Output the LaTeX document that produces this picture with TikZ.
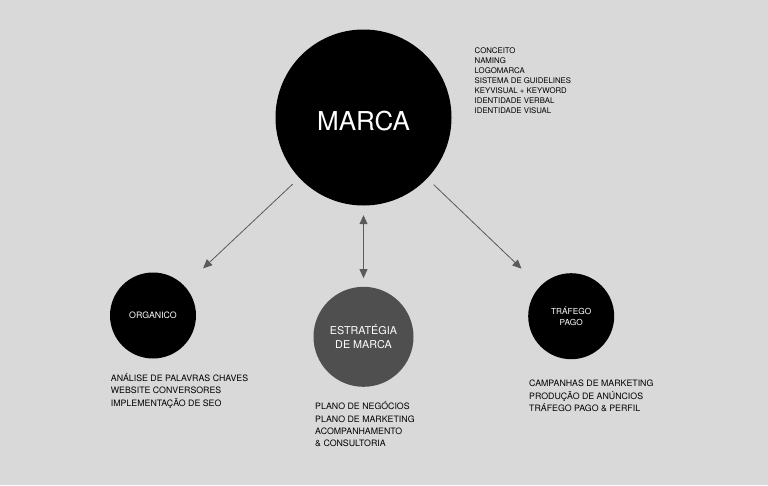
\documentclass[tikz,border=0pt]{standalone}
\usepackage{fontspec}
\setmainfont{TeX Gyre Heros}
\usetikzlibrary{arrows.meta}
\definecolor{paper}{HTML}{D9D9D9}
\definecolor{darkbubble}{HTML}{4F4F4F}
\definecolor{linkgray}{HTML}{5A5A5A}
\tikzset{
    every node/.style={inner sep=0mm},
    bubble/.style={circle, fill=black, text=white, align=center},
    toplist/.style={anchor=north west, align=left, font=\fontsize{7.8}{10}\selectfont},
    itemlist/.style={anchor=north west, align=left, font=\fontsize{8.8}{12.3}\selectfont},
    link/.style={draw=linkgray, line width=0.8pt, -{Triangle[length=9pt,width=8pt]}}
}
\begin{document}
\begin{tikzpicture}[x=1pt,y=-1pt]
        \fill[paper] (0,0) rectangle (768,485);
        \useasboundingbox (0,0) rectangle (768,485);
        % circles
        \node (marca) [bubble, minimum size=176pt,
            label={[text=white, font=\fontsize{26}{30}\selectfont, yshift=-4pt]center:MARCA}] at (363.5,117.5) {};
        \node (organico) [bubble, minimum size=86pt, font=\fontsize{8.8}{11}\selectfont] at (153,315.5) {ORGANICO};
        \node (estrategia) [bubble, fill=darkbubble, minimum size=100pt, font=\fontsize{10.8}{14}\selectfont] at (363.5,336.8) {ESTRATÉGIA\\DE MARCA};
        \node (trafego) [bubble, minimum size=86pt, font=\fontsize{8.3}{11}\selectfont] at (571.2,316.2) {TRÁFEGO\\PAGO};
        % lists
        \node (marcalist) [toplist] at (474.5,47.3) {CONCEITO\\NAMING\\LOGOMARCA\\SISTEMA DE GUIDELINES\\KEYVISUAL + KEYWORD\\IDENTIDADE VERBAL\\IDENTIDADE VISUAL};
        \node (organicolist) [itemlist] at (110.7,373.3) {ANÁLISE DE PALAVRAS CHAVES\\WEBSITE CONVERSORES\\IMPLEMENTAÇÃO DE SEO};
        \node (estrategialist) [itemlist] at (315,401.5) {PLANO DE NEGÓCIOS\\PLANO DE MARKETING\\ACOMPANHAMENTO\\\& CONSULTORIA};
        \node (trafegolist) [itemlist] at (529,380) {CAMPANHAS DE MARKETING\\PRODUÇÃO DE ANÚNCIOS\\TRÁFEGO PAGO \& PERFIL};
        % arrows
        \draw[link, shorten <=9pt, shorten >=25.6pt] (marca) -- (organico);
        \draw[link, shorten <=9pt, shorten >=25.6pt] (marca) -- (trafego);
        \draw[link, {Triangle[length=9pt,width=8pt]}-{Triangle[length=9pt,width=8pt]}, shorten <=9.5pt, shorten >=8.5pt] (marca) -- (estrategia);
\end{tikzpicture}
\end{document}
